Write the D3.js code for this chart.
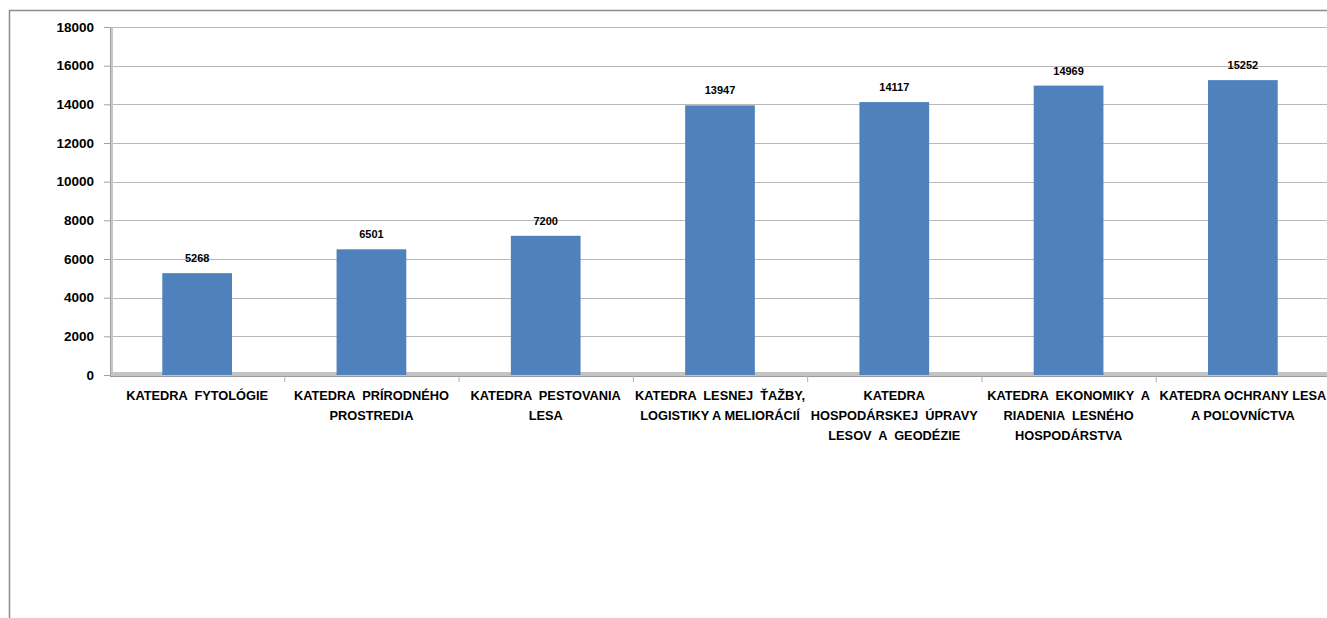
<!DOCTYPE html>
<html>
<head>
<meta charset="utf-8">
<script src="https://cdn.jsdelivr.net/npm/d3@7"></script>
<style>
    body { margin: 0; background: #fff; }
    svg text { font-family: "Liberation Sans", Arial, sans-serif; font-weight: bold; fill: #000; }
</style>
</head>
<body>
<svg id="chart" width="1327" height="618"></svg>
<script>
(function(){
    'use strict';

    // Category labels, one array of lines per department
    var categories = [
        ['KATEDRA  FYTOLÓGIE'],
        ['KATEDRA  PRÍRODNÉHO', 'PROSTREDIA'],
        ['KATEDRA  PESTOVANIA', 'LESA'],
        ['KATEDRA  LESNEJ  ŤAŽBY,', 'LOGISTIKY A MELIORÁCIÍ'],
        ['KATEDRA', 'HOSPODÁRSKEJ  ÚPRAVY', 'LESOV  A  GEODÉZIE'],
        ['KATEDRA  EKONOMIKY  A', 'RIADENIA  LESNÉHO', 'HOSPODÁRSTVA'],
        ['KATEDRA OCHRANY LESA', 'A POĽOVNÍCTVA']
    ];

    var values = [5268, 6501, 7200, 13947, 14117, 14969, 15252];

    var yTicks = [0, 2000, 4000, 6000, 8000, 10000, 12000, 14000, 16000, 18000];

    var left = 110, right = 1330, top = 27, bottom = 375;
    var svg = d3.select('#chart');

    var ids = categories.map(function(c, i){ return i; });

    var xBand = d3.scaleBand().domain(ids).range([left, right])
        .paddingInner(0.6).paddingOuter(0.3);
    var xCat = d3.scaleBand().domain(ids).range([left, right]).padding(0);
    var y = d3.scaleLinear().domain([0, 18000]).range([bottom, top]);

    // chart frame
    svg.append('path')
        .attr('d', 'M9.5,618 L9.5,10.5 L1327,10.5')
        .attr('fill', 'none').attr('stroke', '#8c8c8c').attr('stroke-width', 1.5);

    // gridlines
    svg.append('g').selectAll('line')
        .data(yTicks.filter(function(d){ return d > 0; }))
        .enter().append('line')
        .attr('x1', left).attr('x2', right)
        .attr('y1', function(d){ return Math.round(y(d)) + 0.5; })
        .attr('y2', function(d){ return Math.round(y(d)) + 0.5; })
        .attr('stroke', '#b8b8b8');

    // 3D side wall and floor
    svg.append('rect').attr('x', left).attr('y', top).attr('width', 3)
        .attr('height', bottom - top).attr('fill', '#c8c8c8');
    svg.append('rect').attr('x', left).attr('y', bottom - 3).attr('width', right - left)
        .attr('height', 4).attr('fill', '#c4c4c4');
    svg.append('line').attr('x1', left).attr('x2', right)
        .attr('y1', bottom + 1.5).attr('y2', bottom + 1.5).attr('stroke', '#9a9a9a');

    // y axis
    var yAxis = d3.axisLeft(y).tickValues(yTicks).tickSize(6).tickPadding(10)
        .tickFormat(d3.format('d'));
    var ya = svg.append('g').attr('transform', 'translate(' + left + ',0)').call(yAxis);
    ya.select('.domain').attr('stroke', '#a0a0a0');
    ya.selectAll('.tick line').attr('stroke', '#a0a0a0');
    ya.selectAll('text').style('font-size', '13.5px');

    // category boundary ticks
    svg.append('g').selectAll('line')
        .data(ids.slice(1))
        .enter().append('line')
        .attr('x1', function(d){ return xCat(d) + 0.5; })
        .attr('x2', function(d){ return xCat(d) + 0.5; })
        .attr('y1', bottom + 1).attr('y2', bottom + 7)
        .attr('stroke', '#b0b0b0');

    // bars
    svg.append('g').selectAll('rect')
        .data(values)
        .enter().append('rect')
        .attr('x', function(d, i){ return xBand(i); })
        .attr('width', xBand.bandwidth())
        .attr('y', function(d){ return y(d); })
        .attr('height', function(d){ return bottom - y(d); })
        .attr('fill', '#4f81bd');

    // value labels
    svg.append('g').selectAll('text')
        .data(values)
        .enter().append('text')
        .attr('x', function(d, i){ return xBand(i) + xBand.bandwidth() / 2; })
        .attr('y', function(d){ return y(d) - 11; })
        .attr('text-anchor', 'middle')
        .style('font-size', '11px')
        .text(function(d){ return d; });

    // category labels
    var cat = svg.append('g').selectAll('text')
        .data(categories)
        .enter().append('text')
        .attr('text-anchor', 'middle')
        .style('font-size', '12.8px');
    cat.each(function(lines, i){
        var t = d3.select(this);
        lines.forEach(function(line, k){
            t.append('tspan')
                .attr('x', xCat(i) + xCat.bandwidth() / 2)
                .attr('y', 400 + k * 20)
                .style('white-space', 'pre')
                .text(line);
        });
    });
})();
</script>
</body>
</html>
